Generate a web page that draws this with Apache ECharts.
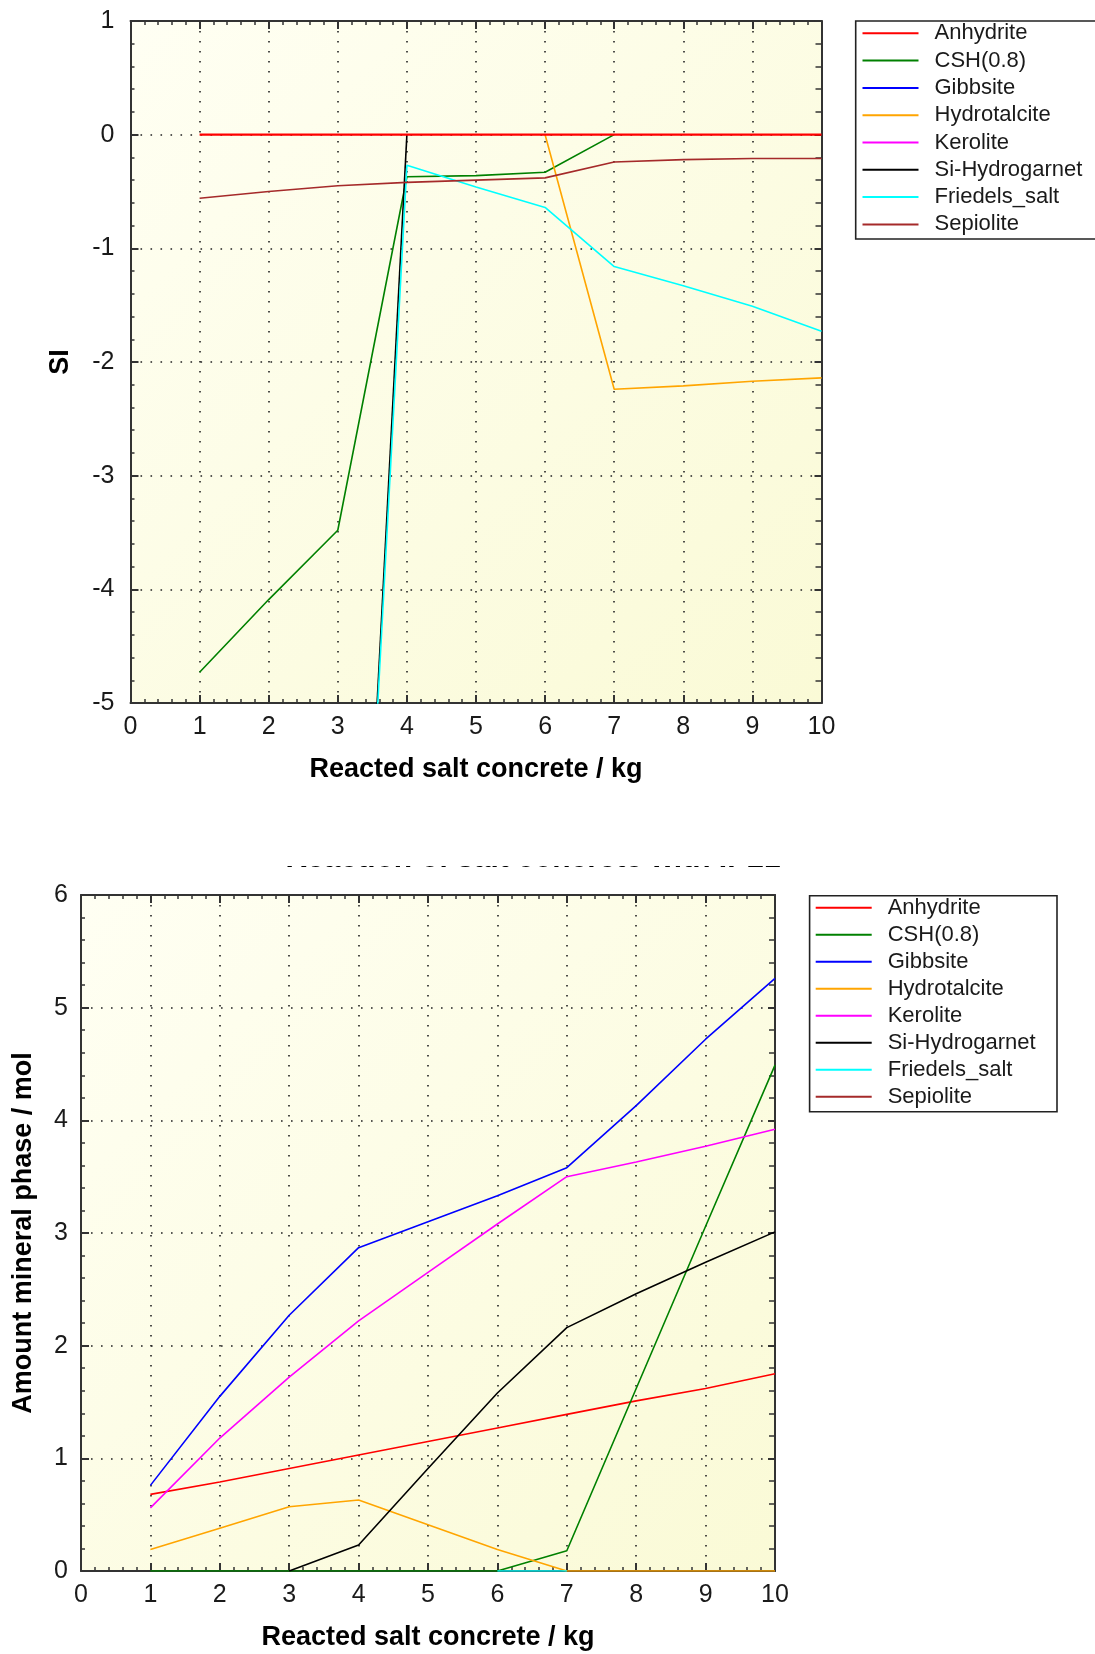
<!DOCTYPE html>
<html>
<head>
<meta charset="utf-8">
<script src="https://cdn.jsdelivr.net/npm/echarts@6/dist/echarts.min.js"></script>
<style>
html,body{margin:0;padding:0;background:#fff;}
#chart{width:1095px;height:1654px;}
</style>
</head>
<body>
<div id="chart"></div>
<script>
// ---------- data ----------
const xValues = [1, 2, 3, 4, 5, 6, 7, 8, 9, 10];
const xTicks = [0, 1, 2, 3, 4, 5, 6, 7, 8, 9, 10];
const siTicks = [-5, -4, -3, -2, -1, 0, 1];
const molTicks = [0, 1, 2, 3, 4, 5, 6];
const seriesNames = ['Anhydrite', 'CSH(0.8)', 'Gibbsite', 'Hydrotalcite', 'Kerolite', 'Si-Hydrogarnet', 'Friedels_salt', 'Sepiolite'];
const seriesColors = ['#ff0000', '#008000', '#0000ff', '#ffa500', '#ff00ff', '#000000', '#00ffff', '#a52a2a'];

// Saturation indices (top chart); phases lying at SI = 0 under the Anhydrite line are left out
const anhydriteSI     = [0, 0, 0, 0, 0, 0, 0, 0, 0, 0];
const cshSI           = [-4.73, -4.09, -3.48, -0.37, -0.36, -0.33, 0, null, null, null];
const gibbsiteSI      = [null, null, null, null, null, null, null, null, null, null];
const hydrotalciteSI  = [null, null, null, null, null, 0, -2.24, -2.21, -2.17, -2.14];
const keroliteSI      = [null, null, null, null, null, null, null, null, null, null];
const siHydrogarnetSI = [null, null, -11.6, 0, null, null, null, null, null, null];
const friedelsSI      = [null, null, -11.5, -0.27, -0.46, -0.64, -1.16, -1.33, -1.51, -1.73];
const sepioliteSI     = [-0.56, -0.50, -0.45, -0.42, -0.40, -0.38, -0.24, -0.22, -0.21, -0.21];

// Amounts of mineral phases / mol (bottom chart)
const anhydriteMol     = [0.68, 0.79, 0.91, 1.03, 1.15, 1.27, 1.39, 1.51, 1.62, 1.75];
const cshMol           = [0, 0, 0, 0, 0, 0, 0.18, 1.62, 3.06, 4.49];
const gibbsiteMol      = [0.76, 1.55, 2.27, 2.87, 3.10, 3.33, 3.58, 4.13, 4.72, 5.26];
const hydrotalciteMol  = [0.19, 0.38, 0.57, 0.63, 0.41, 0.19, 0, 0, 0, 0];
const keroliteMol      = [0.56, 1.18, 1.72, 2.22, 2.65, 3.08, 3.50, 3.63, 3.77, 3.92];
const siHydrogarnetMol = [null, null, 0, 0.23, 0.91, 1.58, 2.16, 2.46, 2.74, 3.01];
const friedelsMol      = [null, null, null, null, null, 0, 0, null, null, null];
const sepioliteMol     = [null, null, null, null, null, null, null, null, null, null];

const siData = [anhydriteSI, cshSI, gibbsiteSI, hydrotalciteSI, keroliteSI, siHydrogarnetSI, friedelsSI, sepioliteSI];
const molData = [anhydriteMol, cshMol, gibbsiteMol, hydrotalciteMol, keroliteMol, siHydrogarnetMol, friedelsMol, sepioliteMol];

const hiddenTitle = 'Reaction of salt concrete with IP21';

// ---------- styling ----------
const FONT = '"Liberation Sans", Arial, sans-serif';
const AX = '#333333';
const bg = {type: 'linear', x: 0, y: 0, x2: 1, y2: 1,
  colorStops: [{offset: 0, color: '#fffff3'}, {offset: 1, color: '#fafad6'}]};

function pairs(arr) { return xValues.map((x, i) => [x, arr[i]]); }

const gridLine = {show: true, lineStyle: {color: '#222', width: 1.6, type: [1.6, 8.4]}};

function mainX(gi) {
  return {
    gridIndex: gi, type: 'value', position: 'bottom',
    min: xTicks[0], max: xTicks[xTicks.length - 1], interval: 1,
    axisLine: {show: true, onZero: false, lineStyle: {color: AX, width: 2}},
    axisTick: {show: true, inside: true, length: 8, lineStyle: {color: AX, width: 2}},
    minorTick: {show: true, splitNumber: 5, length: 4, lineStyle: {color: AX, width: 1.5}},
    axisLabel: {fontSize: 25, color: '#1a1a1a', margin: 12, fontFamily: FONT},
    splitLine: gridLine,
    name: 'Reacted salt concrete / kg', nameLocation: 'middle', nameGap: 53,
    nameTextStyle: {fontSize: 27, fontWeight: 'bold', color: '#000', fontFamily: FONT}
  };
}
function mirrorX(gi) {
  return {
    gridIndex: gi, type: 'value', position: 'top',
    min: xTicks[0], max: xTicks[xTicks.length - 1], interval: 1,
    axisLine: {show: true, onZero: false, lineStyle: {color: AX, width: 2}},
    axisTick: {show: true, inside: true, length: 8, lineStyle: {color: AX, width: 2}},
    minorTick: {show: true, splitNumber: 5, length: 4, lineStyle: {color: AX, width: 1.5}},
    axisLabel: {show: false}, splitLine: {show: false}
  };
}
function mainY(gi, ticks, name, gap, lblMargin) {
  return {
    gridIndex: gi, type: 'value', position: 'left',
    min: ticks[0], max: ticks[ticks.length - 1], interval: 1,
    axisLine: {show: true, onZero: false, lineStyle: {color: AX, width: 2}},
    axisTick: {show: true, inside: true, length: 8, lineStyle: {color: AX, width: 2}},
    minorTick: {show: true, splitNumber: 5, length: 4, lineStyle: {color: AX, width: 1.5}},
    axisLabel: {fontSize: 25, color: '#1a1a1a', margin: lblMargin, fontFamily: FONT},
    splitLine: gridLine,
    name: name, nameLocation: 'middle', nameGap: gap,
    nameTextStyle: {fontSize: 27, fontWeight: 'bold', color: '#000', fontFamily: FONT}
  };
}
function mirrorY(gi, ticks) {
  return {
    gridIndex: gi, type: 'value', position: 'right',
    min: ticks[0], max: ticks[ticks.length - 1], interval: 1,
    axisLine: {show: true, onZero: false, lineStyle: {color: AX, width: 2}},
    axisTick: {show: true, inside: true, length: 7, lineStyle: {color: AX, width: 2}},
    minorTick: {show: true, splitNumber: 5, length: 6, lineStyle: {color: AX, width: 1.5}},
    axisLabel: {show: false}, splitLine: {show: false}
  };
}
function legendAt(left, top, gap) {
  return {
    data: seriesNames, orient: 'vertical', left: left, top: top, padding: 0,
    itemWidth: 56, itemHeight: 2, itemGap: gap, icon: 'rect', selectedMode: false,
    textStyle: {fontSize: 22, lineHeight: 24, color: '#1a1a1a', fontFamily: FONT, padding: [0, 0, 0, 11]}
  };
}

const series = [];
seriesNames.forEach((n, i) => {
  series.push({
    name: n, type: 'line', xAxisIndex: 0, yAxisIndex: 0, data: pairs(siData[i]),
    showSymbol: false, symbol: 'none', clip: true, z: i === 0 ? 4 : 2,
    color: seriesColors[i], lineStyle: {width: i === 0 ? 2.2 : 1.6, color: seriesColors[i]}
  });
});
seriesNames.forEach((n, i) => {
  series.push({
    name: n, type: 'line', xAxisIndex: 2, yAxisIndex: 2, data: pairs(molData[i]),
    showSymbol: false, symbol: 'none', clip: true,
    color: seriesColors[i], lineStyle: {width: 1.6, color: seriesColors[i]}
  });
});

const option = {
  animation: false,
  backgroundColor: '#ffffff',
  grid: [
    {left: 130.5, top: 21, width: 691, height: 682, show: true, backgroundColor: bg, borderWidth: 0},
    {left: 81, top: 895, width: 694, height: 676, show: true, backgroundColor: bg, borderWidth: 0}
  ],
  xAxis: [mainX(0), mirrorX(0), mainX(1), mirrorX(1)],
  yAxis: [mainY(0, siTicks, 'SI', 56, 16), mirrorY(0, siTicks),
          mainY(1, molTicks, 'Amount mineral phase / mol', 44, 13), mirrorY(1, molTicks)],
  legend: [legendAt(862.5, 21.3, 3.3), legendAt(815.7, 895.7, 3)],
  graphic: [
    {type: 'text', x: 533, y: 873.5, z: 1,
     style: {text: hiddenTitle, font: 'bold 30px ' + FONT, fill: '#000', textAlign: 'center', textVerticalAlign: 'bottom'}},
    {type: 'rect', z: 2, shape: {x: 240, y: 820, width: 600, height: 46}, style: {fill: '#ffffff'}},
    {type: 'rect', z: 10, shape: {x: 855.7, y: 21, width: 260, height: 218}, style: {fill: 'none', stroke: '#222', lineWidth: 1.6}},
    {type: 'rect', z: 10, shape: {x: 809.6, y: 895.7, width: 247.4, height: 216}, style: {fill: 'none', stroke: '#222', lineWidth: 1.6}}
  ],
  series: series
};

const chart = echarts.init(document.getElementById('chart'), null, {renderer: 'canvas'});
chart.setOption(option);
</script>
</body>
</html>
